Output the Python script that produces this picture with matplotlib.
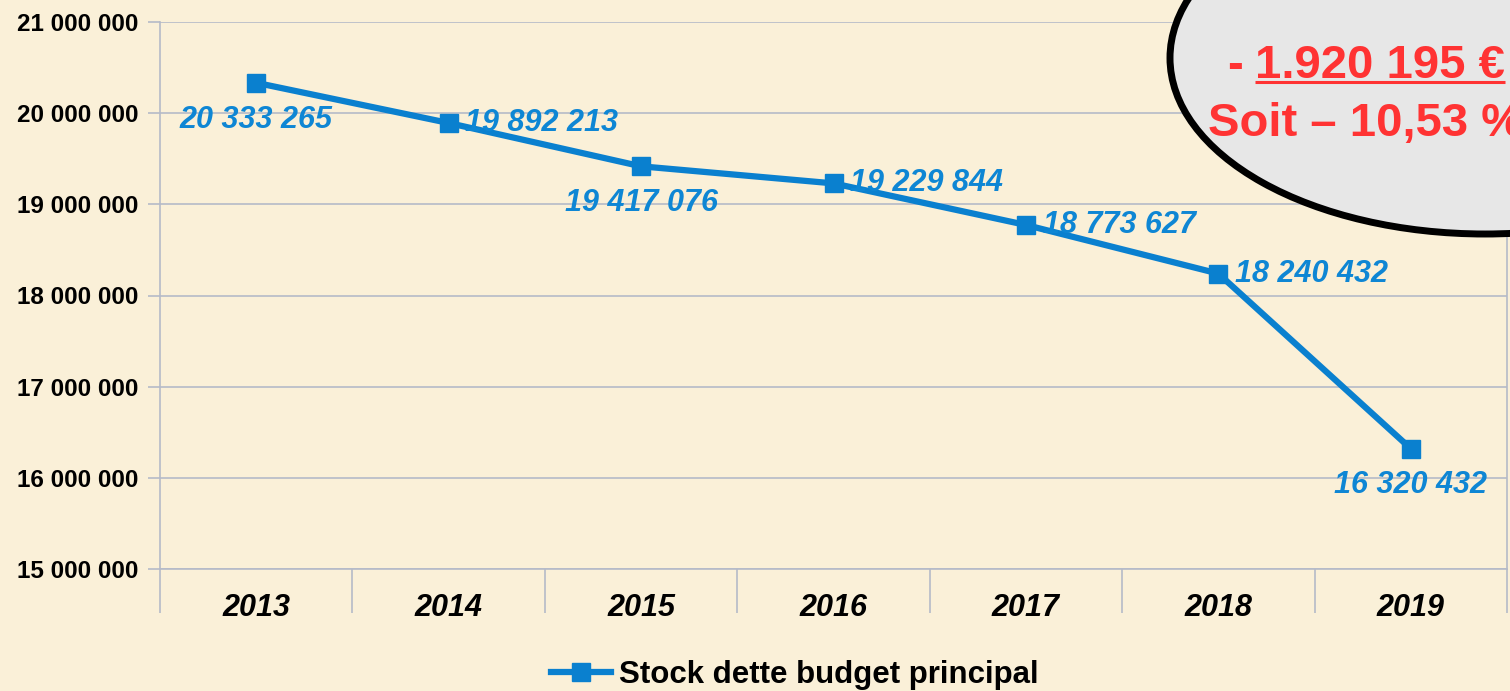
import numpy as np
import matplotlib.pyplot as plt
from matplotlib.patches import Ellipse
from matplotlib.ticker import FuncFormatter, FixedLocator

plt.rcParams['font.family'] = ['Liberation Sans', 'DejaVu Sans']

# Data
years = ['2013', '2014', '2015', '2016', '2017', '2018', '2019']
stock = [20333265, 19892213, 19417076, 19229844, 18773627, 18240432, 16320432]
series_name = 'Stock dette budget principal'
# where each value label sits relative to its point
label_side = ['below', 'right', 'below', 'right', 'right', 'right', 'below']

blue = '#0A80CF'
label_blue = '#0E86D4'
grid_col = '#B5BAC8'
bg = '#FAF0D8'

fig = plt.figure(figsize=(15.1, 6.91), dpi=100, facecolor=bg)
ax = fig.add_axes([160 / 1510, 1 - 569 / 691, 1347 / 1510, 547 / 691])
ax.set_facecolor(bg)

x = np.arange(len(years))
ax.plot(x, stock, color=blue, lw=4.5, marker='s', ms=13, mec=blue, mfc=blue,
        label=series_name, zorder=3)

def fmt(v):
    return f'{int(round(v)):,}'.replace(',', ' ')

for xi, v, side in zip(x, stock, label_side):
    if side == 'below':
        ax.annotate(fmt(v), (xi, v), xytext=(0, -26.5), textcoords='offset points',
                    ha='center', va='center', fontsize=22, fontweight='bold',
                    fontstyle='italic', color=label_blue, zorder=4)
    else:
        ax.annotate(fmt(v), (xi, v), xytext=(12, 0), textcoords='offset points',
                    ha='left', va='center', fontsize=22, fontweight='bold',
                    fontstyle='italic', color=label_blue, zorder=4)

# axes
ax.set_xlim(-0.5, len(years) - 0.5)
ax.set_ylim(15e6, 21e6)
ax.yaxis.set_major_locator(FixedLocator(np.arange(15e6, 21e6 + 1, 1e6)))
ax.yaxis.set_major_formatter(FuncFormatter(lambda v, p: fmt(v)))
ax.grid(axis='y', color=grid_col, lw=1.2)
ax.set_axisbelow(True)

ax.xaxis.set_major_locator(FixedLocator(np.arange(-0.5, len(years), 1.0)))
ax.xaxis.set_minor_locator(FixedLocator(x))
ax.set_xticklabels([], minor=False)
ax.set_xticklabels(years, minor=True)
ax.tick_params(axis='x', which='major', length=32, width=1.2, color=grid_col)
ax.tick_params(axis='x', which='minor', length=0, pad=17, labelsize=22)
for t in ax.get_xticklabels(minor=True):
    t.set_fontweight('bold')
    t.set_fontstyle('italic')
ax.tick_params(axis='y', length=8.6, width=1.2, color=grid_col, pad=7, labelsize=17.5)
for t in ax.get_yticklabels():
    t.set_fontweight('bold')

ax.spines['top'].set_visible(False)
for s in ['left', 'right', 'bottom']:
    ax.spines[s].set_color(grid_col)
    ax.spines[s].set_linewidth(1.2)

# legend
leg = fig.legend(loc='center', bbox_to_anchor=(795 / 1510, 1 - 675 / 691),
                 frameon=False, handlelength=1.9, handletextpad=0.26,
                 prop={'size': 22.5, 'weight': 'bold'})
for h in leg.get_lines():
    h.set_markersize(13)

# callout ellipse in pixel coords
ov = fig.add_axes([0, 0, 1, 1], zorder=10)
ov.set_xlim(0, 1510)
ov.set_ylim(691, 0)
ov.axis('off')
ov.patch.set_alpha(0)
ov.add_patch(Ellipse((1485, 58), 630, 352, facecolor='#E7E7E7',
                     edgecolor='black', lw=5))
red = '#FF3333'
ov.text(1227, 78, '-', fontsize=34, fontweight='bold', color=red,
        ha='left', va='baseline')
amt = ov.text(1255, 78, '1.920 195 €', fontsize=34, fontweight='bold', color=red,
              ha='left', va='baseline')
ov.text(1208, 136, 'Soit – 10,53 %', fontsize=34, fontweight='bold', color=red,
        ha='left', va='baseline')

fig.canvas.draw()
bb = amt.get_window_extent().transformed(ov.transData.inverted())
ov.plot([bb.x0, bb.x1], [82, 82], color=red, lw=2.2, solid_capstyle='butt')

fig.savefig('out.png', dpi=100, facecolor=bg)
